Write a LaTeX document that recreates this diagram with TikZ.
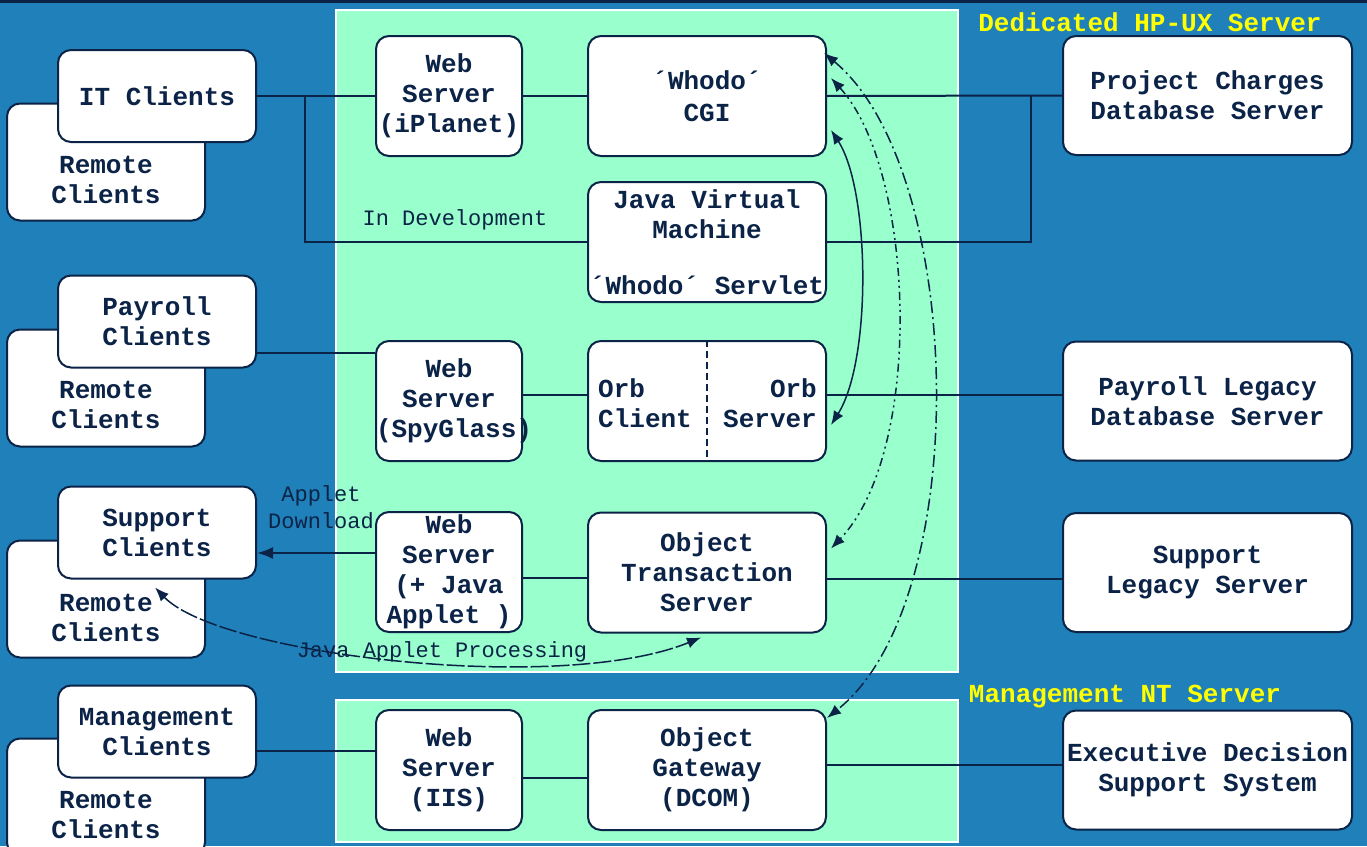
\documentclass[tikz,border=0pt]{standalone}
\usepackage{fontspec}
\usepackage{xcolor}
\usepackage{tikz}
\usetikzlibrary{arrows.meta}
\newfontfamily\monoFont{Liberation Mono}
\definecolor{bgColor}{HTML}{2080B9}
\definecolor{panelColor}{HTML}{99FFCC}
\definecolor{lineColor}{HTML}{0B2347}
\definecolor{tagColor}{HTML}{FFFF00}

\tikzset{
    box/.style={draw=lineColor, fill=white, line width=2pt, rounded corners=13pt,
        inner sep=0pt, align=center, text=lineColor,
        font=\monoFont\bfseries\fontsize{26}{30}\selectfont},
    boxText/.style={inner sep=0pt, align=center, text=lineColor,
        font=\monoFont\bfseries\fontsize{26}{30}\selectfont},
    remoteBox/.style={box, minimum width=198pt, minimum height=117pt},
    clientBox/.style={box, minimum width=198pt, minimum height=92pt},
    webBox/.style={box, minimum width=146pt, minimum height=120pt},
    midBox/.style={box, minimum width=238pt, minimum height=120pt},
    dbBox/.style={box, minimum width=289pt, minimum height=119pt},
    wire/.style={draw=lineColor, line width=2pt},
    note/.style={inner sep=0pt, align=center, text=lineColor,
        font=\monoFont\fontsize{22}{27}\selectfont},
    tag/.style={inner sep=0pt, text=tagColor,
        font=\monoFont\bfseries\fontsize{26}{30}\selectfont},
    link/.style={draw=lineColor, line width=1.5pt, <->, >={Latex[length=14pt,width=11pt]}},
}

\begin{document}
\begin{tikzpicture}[x=1pt, y=-1pt]
    \clip (0,0) rectangle (1367,846);
    \fill[bgColor] (0,0) rectangle (1367,846);
    \fill[lineColor] (0,0) rectangle (1367,3);

    % server panels
    \filldraw[fill=panelColor, draw=white, line width=2pt] (336,10) rectangle (958,672);
    \filldraw[fill=panelColor, draw=white, line width=2pt] (336,700) rectangle (958,842);
    \node[tag] (hpuxTag) at (1150,22) {Dedicated HP-UX Server};
    \node[tag] (ntTag) at (1125,697) {Management NT Server};

    % client groups
    \node[remoteBox] (itRemote) at (106,162) {};
    \node[boxText] (itRemoteText) at (106,180) {Remote\\Clients};
    \node[clientBox] (itCl) at (157,96) {IT Clients};

    \node[remoteBox] (payRemote) at (106,388) {};
    \node[boxText] (payRemoteText) at (106,405) {Remote\\Clients};
    \node[clientBox] (payCl) at (157,321.5) {Payroll\\Clients};

    \node[remoteBox] (suppRemote) at (106,599) {};
    \node[boxText] (suppRemoteText) at (106,618) {Remote\\Clients};
    \node[clientBox] (suppCl) at (157,532.5) {Support\\Clients};

    \node[remoteBox] (mgmtRemote) at (106,797) {};
    \node[boxText] (mgmtRemoteText) at (106,815) {Remote\\Clients};
    \node[clientBox] (mgmtCl) at (157,731.5) {Management\\Clients};

    % web servers
    \node[webBox] (webA) at (449,96) {Web\\Server\\(iPlanet)};
    \node[webBox, text width=146pt] (webB) at (449,401) {Web\\Server\\(SpyGlass)};
    \node[webBox] (webC) at (449,572) {Web\\Server\\(+ Java\\Applet )};
    \node[webBox] (webD) at (449,770) {Web\\Server\\(IIS)};

    % middle tier
    \node[midBox] (cgi) at (707,96) {´Whodo´\\[2pt]CGI};
    \node[midBox] (jvm) at (707,242) {Java Virtual\\Machine\\[26pt]´Whodo´ Servlet};
    \node[midBox] (orb) at (707,401) {};
    \draw[lineColor, line width=1.5pt, dash pattern=on 7pt off 4pt] (orb.north) -- (orb.south);
    \node[boxText, align=left] (orbCl) at (645,403) {Orb\\Client};
    \node[boxText, align=right] (orbSrv) at (770,403) {Orb\\Server};
    \node[midBox] (ots) at (707,572.5) {Object\\Transaction\\Server};
    \node[midBox] (gateway) at (707,770) {Object\\Gateway\\(DCOM)};

    % back end
    \node[dbBox] (proj) at (1207.5,95.5) {Project Charges\\Database Server};
    \node[dbBox] (payLeg) at (1207.5,401) {Payroll Legacy\\Database Server};
    \node[dbBox] (suppLeg) at (1207.5,572.5) {Support\\Legacy Server};
    \node[dbBox] (exec) at (1207.5,770) {Executive Decision\\Support System};

    % links
    \coordinate (itSplit) at (305,96);
    \coordinate (projSplit) at (1031,96);
    \draw[wire] (itCl.east) -- (webA.west);
    \draw[wire] (webA.east) -- (cgi.west);
    \draw[wire] (cgi.east) -- (proj.west);
    \draw[wire] (itSplit) |- (jvm.west);
    \draw[wire] (jvm.east) -| (projSplit);
    \node[note] (devNote) at (455,220) {In Development};

    \draw[wire] ([yshift=-31pt]payCl.east) -- ([yshift=-31pt]payCl.east -| webB.west);
    \draw[wire] ([yshift=6pt]webB.east) -- ([yshift=6pt]webB.east -| orb.west);
    \draw[wire] ([yshift=6pt]orb.east) -- ([yshift=6pt]orb.east -| payLeg.west);

    \draw[wire, -{Latex[length=16pt,width=12pt]}] ([yshift=19pt]webC.west) -- ([yshift=19pt]webC.west -| suppCl.east);
    \node[note] (dlNote) at (321,507) {Applet\\Download};
    \draw[wire] ([yshift=-6pt]webC.east) -- ([yshift=-6pt]webC.east -| ots.west);
    \draw[wire] ([yshift=-6pt]ots.east) -- ([yshift=-6pt]ots.east -| suppLeg.west);

    \draw[wire] ([yshift=-19.5pt]mgmtCl.east) -- ([yshift=-19.5pt]mgmtCl.east -| webD.west);
    \draw[wire] ([yshift=-8pt]webD.east) -- ([yshift=-8pt]webD.east -| gateway.west);
    \draw[wire] ([yshift=5pt]gateway.east) -- ([yshift=5pt]gateway.east -| exec.west);

    % object calls
    \draw[link] ([shift={(4pt,-34pt)}]cgi.east) .. controls (870,190) and (872,360) .. ([shift={(4pt,-24pt)}]orb.east);
    \draw[link, dash pattern=on 8pt off 4pt on 2pt off 4pt on 2pt off 4pt]
        ([shift={(4pt,18pt)}]cgi.east) .. controls (915,170) and (925,450) .. ([shift={(4pt,24pt)}]ots.east);
    \draw[link, dash pattern=on 12pt off 4pt on 2pt off 4pt]
        ([shift={(-3pt,43pt)}]cgi.east) .. controls (965,170) and (975,600) .. ([shift={(0pt,52pt)}]gateway.east);
    \draw[link, dash pattern=on 18pt off 3pt]
        ([shift={(-2pt,-8pt)}]suppCl.south) .. controls (220,655) and (560,695) .. ([shift={(-6pt,-4pt)}]ots.south);
    \node[note] (procNote) at (442,652) {Java Applet Processing};
\end{tikzpicture}
\end{document}
